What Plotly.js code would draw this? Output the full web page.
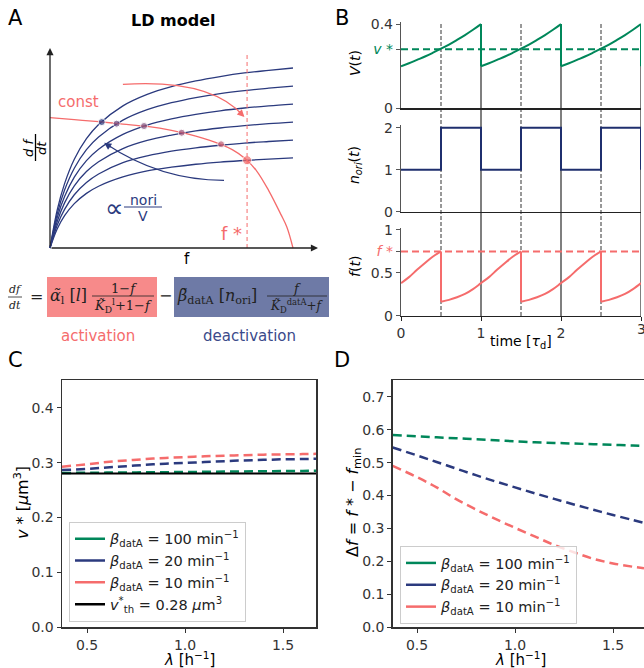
<!DOCTYPE html>
<html><head><meta charset="utf-8">
<script src="https://cdn.plot.ly/plotly-3.0.1.min.js"></script>
<style>html,body{margin:0;padding:0;overflow:hidden;background:#fff}</style>
</head><body><div id="chart" style="width:644px;height:668px"></div>
<script>
// ---------- Panel A (schematic) ----------
const schemF = [0, 0.03, 0.06, 0.1, 0.15, 0.2, 0.3, 0.4, 0.5, 0.6, 0.7, 0.8, 0.9, 1.0];
const deact1 = [0, 0.194, 0.325, 0.448, 0.552, 0.624, 0.718, 0.776, 0.815, 0.844, 0.866, 0.884, 0.897, 0.909];
const deact2 = [0, 0.174, 0.293, 0.403, 0.497, 0.561, 0.646, 0.699, 0.734, 0.760, 0.780, 0.795, 0.807, 0.818];
const deact3 = [0, 0.155, 0.260, 0.358, 0.441, 0.499, 0.574, 0.621, 0.652, 0.675, 0.693, 0.707, 0.718, 0.727];
const deact4 = [0, 0.135, 0.228, 0.314, 0.386, 0.436, 0.502, 0.543, 0.570, 0.591, 0.606, 0.618, 0.628, 0.636];
const deact5 = [0, 0.116, 0.195, 0.269, 0.331, 0.374, 0.431, 0.465, 0.489, 0.506, 0.519, 0.530, 0.538, 0.545];
const deact6 = [0, 0.097, 0.163, 0.224, 0.276, 0.312, 0.359, 0.389, 0.408, 0.423, 0.434, 0.442, 0.449, 0.455];
const actF    = [0, 0.1, 0.2, 0.3, 0.4, 0.5, 0.6, 0.7, 0.75, 0.8, 0.85, 0.9, 0.95, 0.975, 1.0];
const actRate = [0.658, 0.648, 0.638, 0.626, 0.614, 0.594, 0.565, 0.525, 0.497, 0.455, 0.39, 0.29, 0.17, 0.105, 0];
const fixF    = [0.213, 0.274, 0.387, 0.542, 0.704, 0.811];
const fixRate = [0.636, 0.628, 0.616, 0.582, 0.524, 0.443];
const fixColors = ['#2b3a7e', '#6a4a80', '#7e4c7a', '#9c5078', '#bb5a72', '#f36a6a'];
const fStarA = 0.811;

// ---------- Panel B ----------
const tV = [0,0.1,0.2,0.3,0.4,0.5,0.6,0.7,0.8,0.9,1.0,
            1.0,1.1,1.2,1.3,1.4,1.5,1.6,1.7,1.8,1.9,2.0,
            2.0,2.1,2.2,2.3,2.4,2.5,2.6,2.7,2.8,2.9,3.0, 3.0];
const vVals = [0.2,0.214,0.23,0.246,0.264,0.283,0.303,0.325,0.348,0.373,0.4,
               0.2,0.214,0.23,0.246,0.264,0.283,0.303,0.325,0.348,0.373,0.4,
               0.2,0.214,0.23,0.246,0.264,0.283,0.303,0.325,0.348,0.373,0.4, 0.2];
const vStar = 0.28;
const tN = [0, 0.5, 1, 1.5, 2, 2.5, 3];
const nOri = [1, 2, 1, 2, 1, 2, 1];
const tF = [0,0.1,0.2,0.3,0.4,0.5,
            0.5,0.6,0.7,0.8,0.9,1.0,1.1,1.2,1.3,1.4,1.5,
            1.5,1.6,1.7,1.8,1.9,2.0,2.1,2.2,2.3,2.4,2.5,
            2.5,2.6,2.7,2.8,2.9,3.0];
const fVals = [0.38,0.45,0.535,0.615,0.69,0.75,
               0.163,0.185,0.215,0.254,0.31,0.38,0.45,0.535,0.615,0.69,0.75,
               0.163,0.185,0.215,0.254,0.31,0.38,0.45,0.535,0.615,0.69,0.75,
               0.163,0.185,0.215,0.254,0.31,0.38];
const fStarB = 0.75;
const halfTimes = [0.5, 1.5, 2.5];
const fullTimes = [1, 2, 3];

// ---------- Panel C ----------
const lamC = [0.372, 0.5, 0.6, 0.7, 0.8, 0.9, 1.0, 1.1, 1.2, 1.3, 1.4, 1.5, 1.6, 1.668];
const vC100 = [0.2812, 0.2815, 0.2818, 0.282, 0.2823, 0.2826, 0.2829, 0.2832, 0.2836, 0.284, 0.2843, 0.2846, 0.2849, 0.2852];
const vC20  = [0.2865, 0.2885, 0.291, 0.2935, 0.296, 0.298, 0.2995, 0.301, 0.3025, 0.304, 0.305, 0.306, 0.3065, 0.307];
const vC10  = [0.2925, 0.297, 0.301, 0.304, 0.3065, 0.3085, 0.310, 0.3115, 0.3125, 0.3135, 0.3145, 0.315, 0.3155, 0.316];
const vTh = 0.28;

// ---------- Panel D ----------
const lamD = [0.376, 0.5, 0.6, 0.7, 0.8, 0.9, 1.0, 1.1, 1.2, 1.3, 1.4, 1.5, 1.6, 1.658];
const dF100 = [0.584, 0.580, 0.577, 0.574, 0.571, 0.568, 0.565, 0.562, 0.560, 0.558, 0.556, 0.554, 0.552, 0.551];
const dF20  = [0.546, 0.522, 0.502, 0.482, 0.462, 0.443, 0.425, 0.407, 0.390, 0.373, 0.357, 0.341, 0.326, 0.317];
const dF10  = [0.490, 0.456, 0.425, 0.389, 0.358, 0.329, 0.302, 0.276, 0.250, 0.228, 0.208, 0.194, 0.184, 0.179];

const legLabels = ['<i>β</i><sub>datA</sub> = 100 min<sup>−1</sup>',
                   '<i>β</i><sub>datA</sub> = 20 min<sup>−1</sup>',
                   '<i>β</i><sub>datA</sub> = 10 min<sup>−1</sup>',
                   '<i>v</i><sup>*</sup><sub>th</sub> = 0.28 <i>μ</i>m<sup>3</sup>'];

// ---------- styling ----------
const W = 644, H = 668;
const X = p => p / W, Y = p => 1 - p / H;
const G = '#00875a', B = '#2b3a7e', R = '#f56c6c', NB = '#1f2f6e';
const DASH = '9px,5px';

// split a sawtooth series into smooth pieces and vertical drops
function parts(t, v) {
  const sx = [], sy = [], dx = [], dy = [];
  for (let i = 0; i < t.length; i++) {
    if (i > 0 && t[i] === t[i - 1]) {
      sx.push(null); sy.push(null);
      dx.push(t[i - 1], t[i], null); dy.push(v[i - 1], v[i], null);
    }
    sx.push(t[i]); sy.push(v[i]);
  }
  return {sx, sy, dx, dy};
}

const traces = [];
[deact1, deact2, deact3, deact4, deact5, deact6].forEach(d => traces.push({
  x: schemF, y: d, xaxis: 'x', yaxis: 'y', mode: 'lines',
  line: {color: B, width: 1.3, shape: 'spline'}, showlegend: false, hoverinfo: 'skip'}));
traces.push({x: actF, y: actRate, xaxis: 'x', yaxis: 'y', mode: 'lines',
  line: {color: R, width: 1.3, shape: 'spline'}, showlegend: false, hoverinfo: 'skip'});
traces.push({x: fixF, y: fixRate, xaxis: 'x', yaxis: 'y', mode: 'markers',
  marker: {size: [7, 7, 7, 7, 7, 9], color: fixColors}, showlegend: false, hoverinfo: 'skip', cliponaxis: false});

const pv = parts(tV, vVals), pf = parts(tF, fVals);
traces.push({x: pv.sx, y: pv.sy, xaxis: 'x2', yaxis: 'y2', mode: 'lines', line: {color: G, width: 2, shape: 'spline'}, connectgaps: false, showlegend: false});
traces.push({x: pv.dx, y: pv.dy, xaxis: 'x2', yaxis: 'y2', mode: 'lines', line: {color: G, width: 2}, connectgaps: false, showlegend: false});
traces.push({x: tN, y: nOri, xaxis: 'x3', yaxis: 'y3', mode: 'lines', line: {color: NB, width: 2, shape: 'hv'}, showlegend: false});
traces.push({x: pf.sx, y: pf.sy, xaxis: 'x4', yaxis: 'y4', mode: 'lines', line: {color: R, width: 2, shape: 'spline'}, connectgaps: false, showlegend: false});
traces.push({x: pf.dx, y: pf.dy, xaxis: 'x4', yaxis: 'y4', mode: 'lines', line: {color: R, width: 2}, connectgaps: false, showlegend: false});

// C
[[vC10, R], [vC20, B], [vC100, G]].forEach(([v, c]) => traces.push({
  x: lamC, y: v, xaxis: 'x5', yaxis: 'y5', mode: 'lines', line: {color: c, width: 2.5, dash: DASH, shape: 'spline'}, showlegend: false}));
traces.push({x: lamC, y: lamC.map(() => vTh), xaxis: 'x5', yaxis: 'y5', mode: 'lines', line: {color: '#000', width: 2}, showlegend: false});
[[G, legLabels[0]], [B, legLabels[1]], [R, legLabels[2]], ['#000', legLabels[3]]].forEach(([c, n]) => traces.push({
  x: [null], y: [null], xaxis: 'x5', yaxis: 'y5', mode: 'lines', line: {color: c, width: 2.5}, name: n, legend: 'legend', showlegend: true}));
// D
[[dF10, R], [dF20, B], [dF100, G]].forEach(([v, c]) => traces.push({
  x: lamD, y: v, xaxis: 'x6', yaxis: 'y6', mode: 'lines', line: {color: c, width: 2.5, dash: DASH, shape: 'spline'}, showlegend: false}));
[[G, legLabels[0]], [B, legLabels[1]], [R, legLabels[2]]].forEach(([c, n]) => traces.push({
  x: [null], y: [null], xaxis: 'x6', yaxis: 'y6', mode: 'lines', line: {color: c, width: 2.5}, name: n, legend: 'legend2', showlegend: true}));

const tf = {family: 'DejaVu Sans', size: 14, color: '#333'};
const noAx = {visible: false, showgrid: false, zeroline: false, fixedrange: true};
const bX = (anchor, extra) => Object.assign({domain: [X(401), X(641)], range: [0, 3], anchor: anchor,
  showline: true, linecolor: '#222', linewidth: 1.2, ticks: '', showticklabels: false, showgrid: false, zeroline: false}, extra || {});
const bY = (anchor, dom, range, vals, text) => ({domain: dom, range: range, anchor: anchor, showline: true,
  linecolor: '#555', linewidth: 1.2, ticks: 'outside', ticklen: 4, tickcolor: '#555', tickvals: vals, ticktext: text,
  tickfont: tf, showgrid: false, zeroline: false});
const cdX = (anchor, dom, range) => ({domain: dom, range: range, anchor: anchor, showline: true, linecolor: '#333', linewidth: 1.5,
  mirror: true, ticks: 'outside', ticklen: 4, tickcolor: '#333', tickvals: [0.5, 1.0, 1.5], tickformat: '.1f',
  tickfont: tf, showgrid: false, zeroline: false});
const cdY = (anchor, dom, range, vals, mirror) => ({domain: dom, range: range, anchor: anchor, showline: true, linecolor: '#333', linewidth: 1.5,
  mirror: mirror, ticks: 'outside', ticklen: 4, tickcolor: '#333', tickvals: vals, tickformat: '.1f',
  tickfont: tf, showgrid: false, zeroline: false});

const shapes = [];
// Panel A
shapes.push({type: 'line', xref: 'x', yref: 'y', x0: fStarA, x1: fStarA, y0: 0, y1: 0.99, line: {color: R, width: 1, dash: '4px,3px'}});
shapes.push({type: 'path', xref: 'x', yref: 'y', path: 'M 0.30,0.826 Q 0.66,0.855 0.795,0.668', line: {color: R, width: 1.2}});
shapes.push({type: 'path', xref: 'x', yref: 'y', path: 'M 0.716,0.342 Q 0.453,0.342 0.228,0.528', line: {color: B, width: 1.2}});
shapes.push({type: 'line', xref: 'paper', yref: 'paper', x0: X(124), x1: X(162), y0: Y(207), y1: Y(207), line: {color: B, width: 1}});
shapes.push({type: 'line', xref: 'paper', yref: 'paper', x0: X(35.5), x1: X(35.5), y0: Y(134), y1: Y(161), line: {color: '#000', width: 1.3}});
// equation boxes
shapes.push({type: 'rect', xref: 'paper', yref: 'paper', x0: X(47), x1: X(157), y0: Y(317), y1: Y(277), fillcolor: '#f78a8a', line: {width: 0}});
shapes.push({type: 'rect', xref: 'paper', yref: 'paper', x0: X(174), x1: X(329), y0: Y(317), y1: Y(277), fillcolor: '#6e7aa6', line: {width: 0}});
shapes.push({type: 'line', xref: 'paper', yref: 'paper', x0: X(8), x1: X(22), y0: Y(297), y1: Y(297), line: {color: '#222', width: 0.8}});
shapes.push({type: 'line', xref: 'paper', yref: 'paper', x0: X(92), x1: X(154), y0: Y(296), y1: Y(296), line: {color: '#222', width: 0.8}});
shapes.push({type: 'line', xref: 'paper', yref: 'paper', x0: X(267), x1: X(327), y0: Y(296), y1: Y(296), line: {color: '#222', width: 0.8}});
// Panel B guide lines
halfTimes.forEach(t => shapes.push({type: 'line', layer: 'below', xref: 'x2', yref: 'paper', x0: t, x1: t, y0: Y(316), y1: Y(24),
  line: {color: '#333', width: 1, dash: '4px,2px'}}));
fullTimes.forEach(t => shapes.push({type: 'line', layer: 'below', xref: 'x2', yref: 'paper', x0: t, x1: t, y0: Y(316), y1: Y(24),
  line: {color: '#555', width: 1.5}}));
shapes.push({type: 'line', xref: 'x2', yref: 'y2', x0: 0, x1: 3, y0: vStar, y1: vStar, line: {color: G, width: 2, dash: '7px,4px'}});
shapes.push({type: 'line', xref: 'x4', yref: 'y4', x0: 0, x1: 3, y0: fStarB, y1: fStarB, line: {color: R, width: 2, dash: '7px,4px'}});

const annotations = [];
const ann = (px, py, text, size, opts) => annotations.push(Object.assign({xref: 'paper', yref: 'paper', x: X(px), y: Y(py),
  text: text, showarrow: false, xanchor: 'center', yanchor: 'middle', font: {family: 'DejaVu Sans', size: size, color: '#000'}}, opts || {}));
// panel labels
ann(16, 18, 'A', 21); ann(342, 18, 'B', 21); ann(16, 360, 'C', 21); ann(342, 360, 'D', 21);
ann(173, 20, '<b>LD model</b>', 16);
// panel A texts
ann(78, 102, 'const', 15, {font: {family: 'DejaVu Sans', size: 15, color: R}});
ann(114, 208, '∝', 26, {font: {family: 'DejaVu Sans', size: 26, color: B}});
ann(143, 200, 'nori', 14, {font: {family: 'DejaVu Sans', size: 14, color: B}});
ann(143, 216, 'V', 14, {font: {family: 'DejaVu Sans', size: 14, color: B}});
ann(231, 233, 'f *', 18, {font: {family: 'DejaVu Sans', size: 18, color: R}});
ann(187, 259, 'f', 15);
ann(29, 148, '<i>d f</i>', 13, {textangle: -90});
ann(42, 148, '<i>dt</i>', 13, {textangle: -90});
// arrows
const arr = (x, y, ax, ay, color, xr, yr, axr) => annotations.push({xref: xr, yref: yr, x: x, y: y, ax: ax, ay: ay,
  axref: axr || 'pixel', ayref: axr ? yr : 'pixel', text: '', showarrow: true, arrowhead: 2, arrowsize: 1.1, arrowwidth: 1.3, arrowcolor: color, standoff: 0});
arr(1.103, 0, 0, 0, '#222', 'x', 'y', 'x');
arr(0, 1.01, 0, 0, '#222', 'x', 'y', 'x');
arr(0.80, 0.662, -7, -7, R, 'x', 'y');
arr(0.223, 0.532, 8, 5.5, B, 'x', 'y');
// equation
const SF = 'DejaVu Serif';
const eq = (px, py, text, size, opts) => ann(px, py, text, size, Object.assign({font: {family: SF, size: size, color: '#222'}}, opts || {}));
eq(15, 289, '<i>df</i>', 11);
eq(15, 305, '<i>dt</i>', 11);
eq(36, 297, '=', 16);
eq(48, 297, '<i>α̃</i><sub>l</sub> [<i>l</i>]', 16, {xanchor: 'left'});
eq(124, 288, '1−<i>f</i>', 13);
eq(123, 306, '<i>K̃</i><sub>D</sub><sup>l</sup>+1−<i>f</i>', 13);
eq(165, 296, '−', 16);
eq(175, 297, '<i>β̃</i><sub>datA</sub> [<i>n</i><sub>ori</sub>]', 16, {xanchor: 'left'});
eq(297, 288, '<i>f</i>', 13);
eq(297, 306, '<i>K̃</i><sub>D</sub><sup>datA</sup>+<i>f</i>', 12);
ann(98, 336, 'activation', 15, {font: {family: 'DejaVu Sans', size: 15, color: R}});
ann(249, 336, 'deactivation', 15, {font: {family: 'DejaVu Sans', size: 15, color: '#3b4a8a'}});
// axis titles
ann(355, 63, '<i>V</i>(<i>t</i>)', 14, {textangle: -90});
ann(355, 165, '<i>n</i><sub><i>ori</i></sub>(<i>t</i>)', 14, {textangle: -90});
ann(355, 267, '<i>f</i>(<i>t</i>)', 14, {textangle: -90});
ann(521, 342, 'time [<i>τ</i><sub>d</sub>]', 14);
ann(641, 329, '3', 14, {font: {family: 'DejaVu Sans', size: 14, color: '#333'}});
ann(21, 503, '<i>v</i> * [<i>μ</i>m<sup>3</sup>]', 16, {textangle: -90});
ann(189, 659, '<i>λ</i> [h<sup>−1</sup>]', 15);
ann(353, 503, 'Δ<i>f</i> = <i>f</i> * − <i>f</i><sub>min</sub>', 16, {textangle: -90});
ann(520, 659, '<i>λ</i> [h<sup>−1</sup>]', 15);

const layout = {
  width: W, height: H, margin: {l: 0, r: 0, t: 0, b: 0},
  paper_bgcolor: '#fff', plot_bgcolor: 'rgba(0,0,0,0)',
  font: {family: 'DejaVu Sans', color: '#222'},
  xaxis: Object.assign({domain: [X(50 - 0.02 * 243), X(50 + 1.12 * 243)], range: [-0.02, 1.12], anchor: 'y'}, noAx),
  yaxis: Object.assign({domain: [Y(248 + 0.02 * 198), Y(248 - 1.02 * 198)], range: [-0.02, 1.02], anchor: 'x'}, noAx),
  xaxis2: bX('y2'),
  yaxis2: bY('x2', [Y(108.3), Y(22.2)], [0, 0.409], [0, vStar, 0.4],
              ['0', '<span style="color:' + G + '"><i>v</i> *</span>', '0.4']),
  xaxis3: bX('y3'),
  yaxis3: bY('x3', [Y(211.7), Y(125)], [0, 2.064], [0, 1, 2], ['0', '1', '2']),
  xaxis4: bX('y4', {ticks: 'outside', ticklen: 4, tickcolor: '#222', showticklabels: true, tickvals: [0, 1, 2, 3], tickfont: tf}),
  yaxis4: bY('x4', [Y(315.7), Y(228)], [0, 1.023], [0, 0.5, fStarB, 1],
              ['0', '0.5', '<span style="color:' + R + '"><i>f</i> *</span>', '1']),
  xaxis5: cdX('y5', [X(62), X(316)], [0.372, 1.668]),
  yaxis5: cdY('x5', [Y(627.3), Y(380)], [0, 0.4505], [0, 0.1, 0.2, 0.3, 0.4], true),
  xaxis6: cdX('y6', [X(392.7), 1], [0.376, 1.658]),
  yaxis6: cdY('x6', [Y(627.3), Y(380)], [0, 0.751], [0, 0.1, 0.2, 0.3, 0.4, 0.5, 0.6, 0.7], false),
  legend: {x: X(69), y: Y(521.7), xanchor: 'left', yanchor: 'top', bgcolor: 'rgba(255,255,255,0.8)',
           bordercolor: '#ccc', borderwidth: 1, font: {family: 'DejaVu Sans', size: 14.5, color: '#222'}, itemwidth: 30},
  legend2: {x: X(400), y: Y(546), xanchor: 'left', yanchor: 'top', bgcolor: 'rgba(255,255,255,0.8)',
           bordercolor: '#ccc', borderwidth: 1, font: {family: 'DejaVu Sans', size: 14.5, color: '#222'}, itemwidth: 30},
  shapes: shapes, annotations: annotations
};
Plotly.newPlot('chart', traces, layout, {staticPlot: true, displayModeBar: false});
</script></body></html>
